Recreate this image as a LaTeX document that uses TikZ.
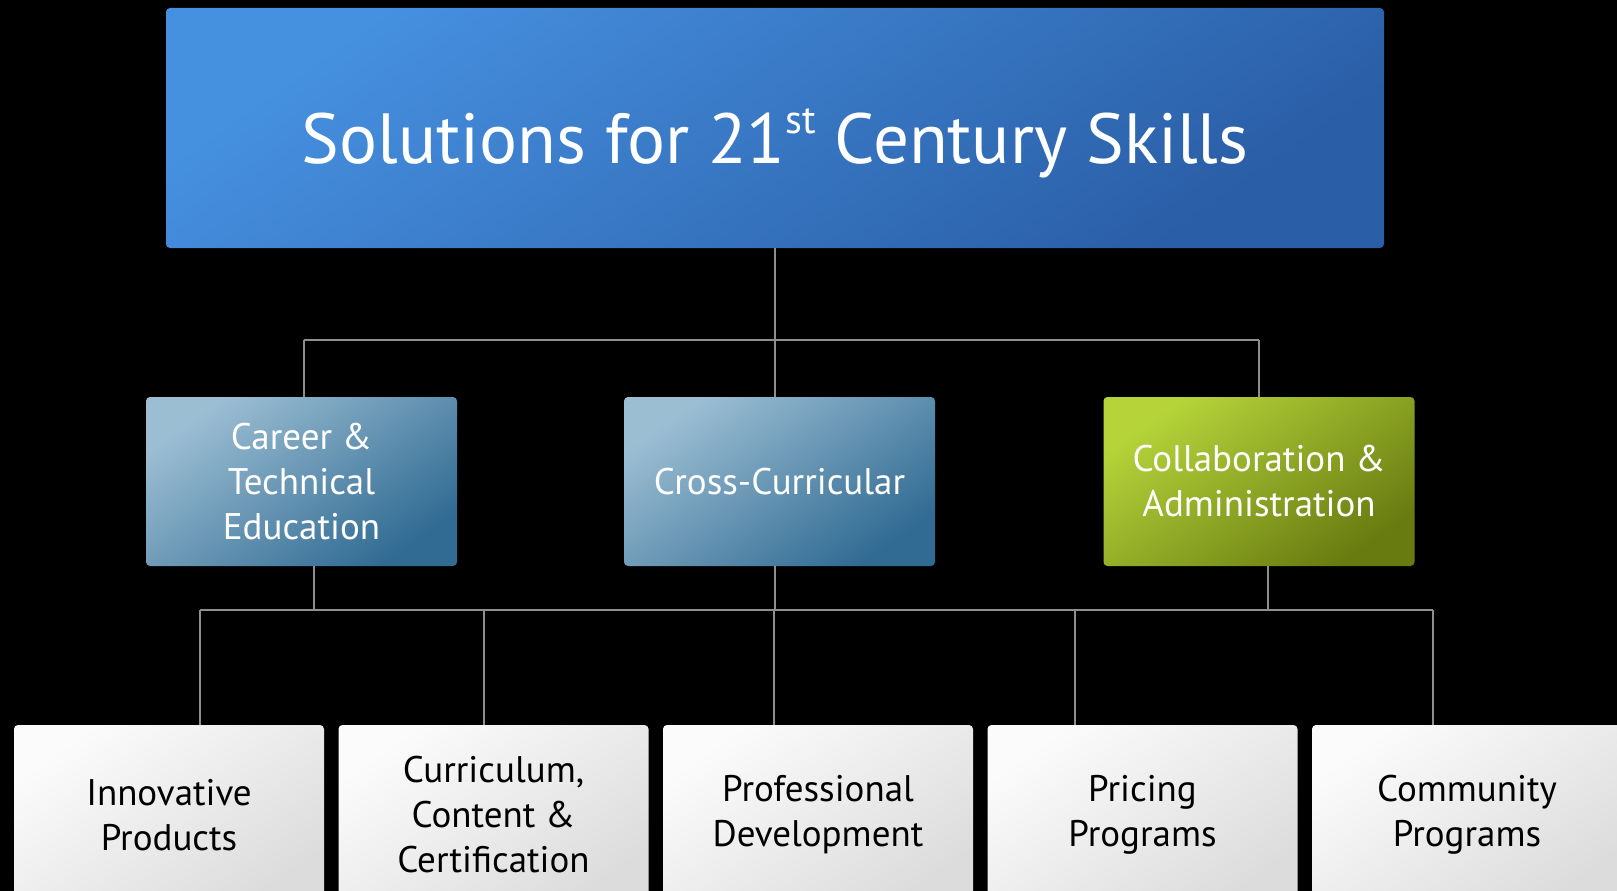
\documentclass[tikz,border=0pt]{standalone}
\usepackage{fontspec}
\setmainfont{PT Sans}
\usetikzlibrary{positioning,calc}
\definecolor{wire}{HTML}{8E8E8E}
\definecolor{headA}{HTML}{4690E0}
\definecolor{headB}{HTML}{2A5EA6}
\definecolor{midA}{HTML}{9CBED3}
\definecolor{midB}{HTML}{316B93}
\definecolor{grnA}{HTML}{B6D43A}
\definecolor{grnB}{HTML}{687B11}
\definecolor{botA}{HTML}{FBFBFB}
\definecolor{botB}{HTML}{DCDCDC}
\tikzset{
  oc/.style={rounded corners=4pt, align=center, inner sep=0pt},
  oc head/.style={oc, top color=headA, bottom color=headB, shading angle=35, text=white,
                  minimum width=1218pt, minimum height=240pt, font=\fontsize{71}{82}\selectfont},
  oc mid/.style={oc, top color=midA, bottom color=midB, shading angle=35, text=white,
                 minimum width=311pt, minimum height=169pt, font=\fontsize{37}{45}\selectfont},
  oc grn/.style={oc mid, top color=grnA, bottom color=grnB, shading angle=35},
  oc leaf/.style={oc, top color=botA, bottom color=botB, shading angle=35, text=black,
                  minimum width=310pt, minimum height=180pt, font=\fontsize{37}{45}\selectfont},
  oc wire/.style={draw=wire, line width=2pt},
}
\begin{document}
\begin{tikzpicture}[x=1pt, y=-1pt]
  \fill[black] (0,0) rectangle (1617,891);
  \useasboundingbox (0,0) rectangle (1617,891);
  % top level
  \node[oc head] (head) at (775,128) {\raisebox{0pt}[90pt][20pt]{Solutions for 21\raisebox{0.42em}{\fontsize{40}{40}\selectfont st} Century Skills}};
  % second row
  \node[oc mid] (career) at (301.5,481.5) {Career \&\\Technical\\Education};
  \node[oc mid] (cross) at (779.5,481.5) {Cross-Curricular};
  \node[oc grn] (collab) at (1259,481.5) {Collaboration \&\\Administration};
  % bottom row
  \node[oc leaf] (inno) at (169,815) {Innovative\\Products};
  \node[oc leaf] (curr) at (493.5,815) {Curriculum,\\Content \&\\Certification};
  \node[oc leaf] (prof) at (818,815) {Professional\\Development};
  \node[oc leaf] (pric) at (1142.5,815) {Pricing\\Programs};
  \node[oc leaf] (comm) at (1467,815) {Community\\Programs};
  % connectors
  \coordinate (busA) at (0,340);
  \coordinate (busB) at (0,610);
  \draw[oc wire] (head.south) -- (head.south |- cross.north);
  \draw[oc wire] ($(career.north |- busA)+(2.5,0)$) -- (collab.north |- busA);
  \foreach \n/\s in {career/2.5,collab/0} \draw[oc wire] ($(\n.north |- busA)+(\s,0)$) -- ($(\n.north)+(\s,0)$);
  \foreach \n/\s in {career/12.5,collab/9} \draw[oc wire] ($(\n.south)+(\s,0)$) -- ($(\n.south |- busB)+(\s,0)$);
  \draw[oc wire] (head.south |- cross.south) -- (head.south |- busB);
  \draw[oc wire] ($(inno.north |- busB)+(31,0)$) -- ($(comm.north |- busB)+(-34,0)$);
  \foreach \n/\s in {inno/31,curr/-9.5,prof/-44,pric/-67.5,comm/-34}
    \draw[oc wire] ($(\n.north |- busB)+(\s,0)$) -- ($(\n.north)+(\s,0)$);
\end{tikzpicture}
\end{document}
